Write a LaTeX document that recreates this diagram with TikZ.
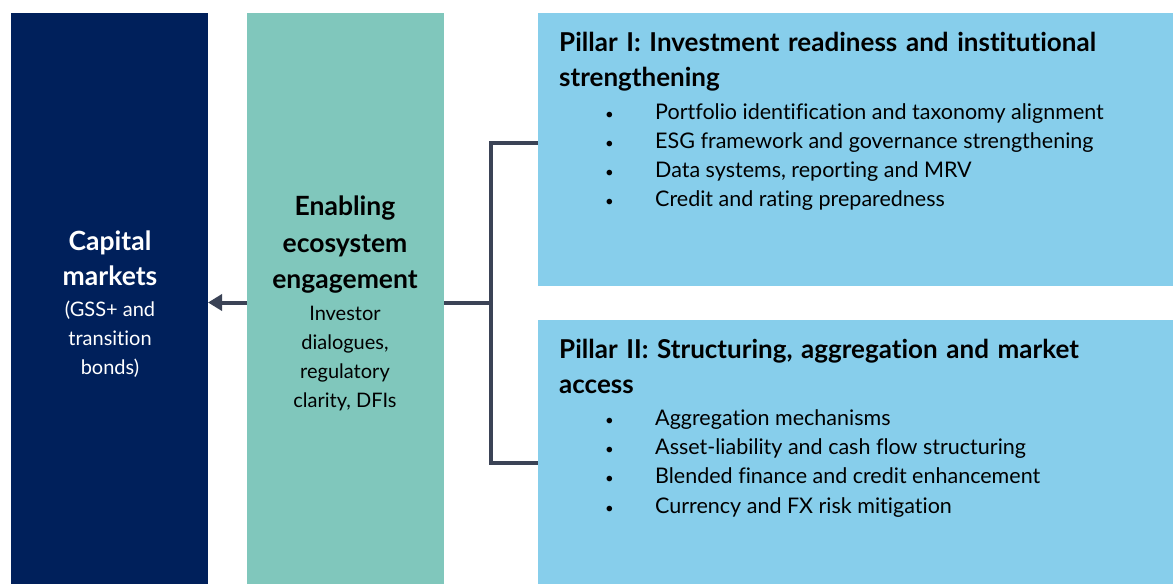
\documentclass[tikz,border=0pt]{standalone}
\usepackage{fontspec}
\setmainfont{Lato}[Ligatures=NoCommon]
\usepackage{tikz}
\definecolor{marineblau}{RGB}{0,32,91}
\definecolor{tuerkis}{RGB}{128,199,188}
\definecolor{hellblau}{RGB}{135,206,235}
\definecolor{anthrazit}{RGB}{59,67,86}
\usetikzlibrary{arrows.meta, positioning}
\tikzstyle{block} = [draw=none, inner sep=0pt, outer sep=0pt, anchor=north west]
\tikzstyle{line} = [draw=anthrazit, line width=4pt]
\newcommand{\pkt}{\makebox[50pt][l]{\fontsize{15}{15}\selectfont\textbullet}}

\begin{document}
\hyphenpenalty=10000
\exhyphenpenalty=10000
\begin{tikzpicture}[x=1pt, y=-1pt,
			>={Triangle[length=14pt,width=16pt]},   %Pfeilspitze
			titel/.style={font=\fontsize{26.5}{36.5}\selectfont\bfseries, align=center, inner sep=0pt},
			fliess/.style={font=\fontsize{20}{29}\selectfont, align=center, inner sep=0pt},
			saeulentitel/.style={font=\fontsize{26}{35}\selectfont\bfseries, text width=570pt, align=left, inner sep=0pt, anchor=north west},
			punkt/.style={font=\fontsize{21.5}{29}\selectfont, inner sep=0pt, anchor=base west}]
			\useasboundingbox (0,0) rectangle (1173,584); %Bildbereich
			% Kaesten
			\node[block, fill=marineblau, minimum width=197pt, minimum height=571pt] (markt) at (11,13) {};
			\node[block, fill=tuerkis, minimum width=197pt, minimum height=571pt] (oeko) at (247,13) {};
			\node[block, fill=hellblau, minimum width=635pt, minimum height=273pt] (saeule1) at (538,13) {};
			\node[block, fill=hellblau, minimum width=635pt, minimum height=264pt] (saeule2) at (538,320) {};
			% Beschriftung links
			\node[titel, text=white, font=\fontsize{26.5}{35}\selectfont\bfseries] (markt-titel) at (110,258) {Capital\\markets};
			\node[fliess, text=white] (markt-text) at (110,339) {(GSS+ and\\transition\\bonds)};
			\node[titel] (oeko-titel) at (345,245) {Enabling\\ecosystem\\engagement};
			\node[fliess] (oeko-text) at (345,359) {Investor\\dialogues,\\regulatory\\clarity, DFIs};
			% Saeulen
			\node[saeulentitel] (s1-titel) at (559,31.5) {Pillar I: Investment readiness and institutional strengthening};
			\foreach \i/\txt in {1/Portfolio identification and taxonomy alignment, 2/ESG framework and governance strengthening, 3/{Data systems, reporting and MRV}, 4/Credit and rating preparedness}
				\node[punkt] (s1-\i) at (605,90.5+29*\i) {\pkt\txt};
			\node[saeulentitel] (s2-titel) at (559,338.5) {Pillar II: Structuring, aggregation and market access};
			\foreach \i/\txt in {1/Aggregation mechanisms, 2/Asset-liability and cash flow structuring, 3/Blended finance and credit enhancement, 4/Currency and FX risk mitigation}
				\node[punkt] (s2-\i) at (605,396+29.3*\i) {\pkt\txt};
			% Verbindungen
			\coordinate (gabel) at (491,302.5);
			\draw[line] (oeko.east |- gabel) -- (gabel);
			\draw[line] (saeule1.west |- 0,142.5) -| (gabel |- 0,462.5) -- (saeule2.west |- 0,462.5);
			\draw[line, ->] (oeko.west |- gabel) -- (markt.east |- gabel);
		\end{tikzpicture}
\end{document}
